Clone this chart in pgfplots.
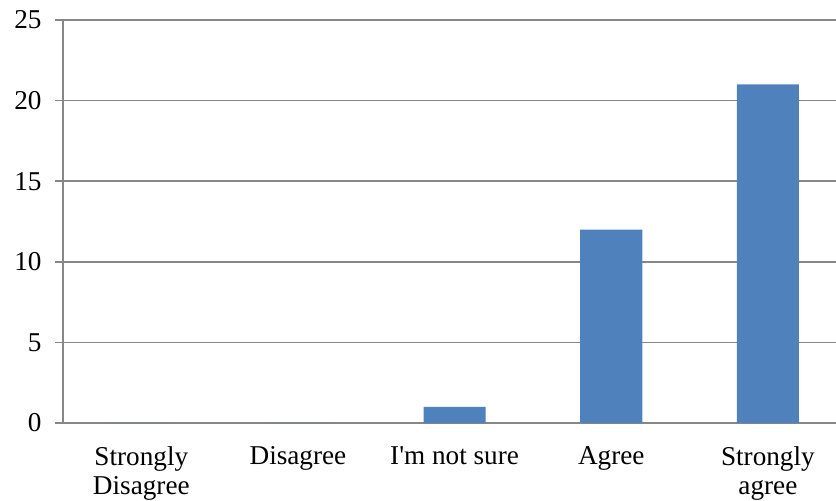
\documentclass[border=0pt]{standalone}
\usepackage{pgfplots}
\pgfplotsset{compat=1.18}
\usepackage{fontspec}
\setmainfont{Liberation Serif}
\definecolor{barblue}{HTML}{4F81BD}
\definecolor{gridgray}{HTML}{878787}
\newcommand{\lblfont}{\fontsize{13.6bp}{14.8bp}\selectfont}
\begin{document}
\lblfont
\begin{tikzpicture}
\useasboundingbox (-31.5bp,-39bp) rectangle (386.5bp,211.5bp);
\begin{axis}[
  scale only axis,
  width=386.5bp, height=201.5bp,
  xmin=-0.5, xmax=4.435,
  ymin=0, ymax=25,
  ytick={0,5,10,15,20,25},
  xtick=data,
  xticklabels={{Strongly\\Disagree},Disagree,{I\textquotesingle m not sure},Agree,{Strongly\\agree}},
  axis x line*=bottom,
  axis y line*=left,
  axis line style={gridgray, line width=0.75bp, -},
  ymajorgrids,
  major grid style={gridgray, line width=0.75bp},
  ytick style={gridgray, line width=0.75bp},
  tick align=outside,
  major tick length=4bp,
  xtick style={draw=none},
  xticklabel style={align=center, yshift=-3bp, font=\lblfont},
  yticklabel style={xshift=-2bp, font=\lblfont},
  /pgf/number format/assume math mode=true,
  clip=false,
]
\addplot[ybar, bar width=0.396, fill=barblue, draw=none]
  coordinates {(0,0) (1,0) (2,1) (3,12) (4,21)};
\end{axis}
\end{tikzpicture}
\end{document}
